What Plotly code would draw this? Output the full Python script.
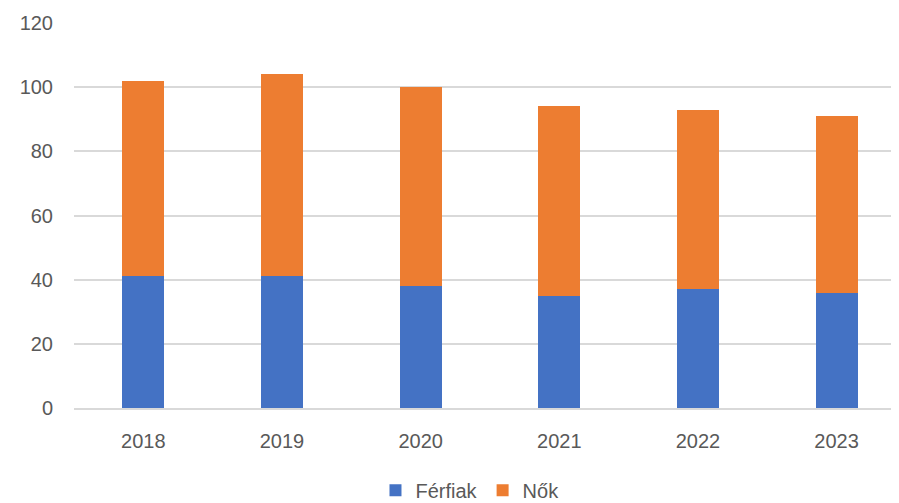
import plotly.graph_objects as go

years = ["2018", "2019", "2020", "2021", "2022", "2023"]
ferfiak = [41, 41, 38, 35, 37, 36]
nok = [61, 63, 62, 59, 56, 55]
y_ticks = [0, 20, 40, 60, 80, 100, 120]

fig = go.Figure()
fig.add_trace(go.Bar(x=years, y=ferfiak, name="Férfiak", marker_color="#4472C4",
                     marker_line_width=0))
fig.add_trace(go.Bar(x=years, y=nok, name="Nők", marker_color="#ED7D31",
                     marker_line_width=0))

font = dict(family="Liberation Sans, Arial, sans-serif", size=20, color="#595959")

# page body has an 8px margin, so the figure is sized/offset to compensate
fig.update_layout(
    barmode="stack",
    bargap=0.697,
    width=891, height=495,
    margin=dict(l=66, r=0, t=15, b=95, autoexpand=False),
    paper_bgcolor="white", plot_bgcolor="white",
    font=font,
    showlegend=True,
    legend=dict(orientation="h", xref="container", yref="container",
                x=0.5185, y=0.026, xanchor="center", yanchor="middle",
                font=font, itemwidth=30, traceorder="normal"),
    xaxis=dict(type="category", range=[-0.5, 5.45], showgrid=False,
               showline=True, linecolor="#D9D9D9", linewidth=1.5,
               ticks="", ticklabelstandoff=14, tickfont=font),
    yaxis=dict(range=[0, 120], tickvals=y_ticks, showgrid=True,
               gridcolor="#D9D9D9", gridwidth=1.5, zeroline=False,
               showline=False, ticks="", ticklabelstandoff=20, tickfont=font),
)

fig.write_html("out.html")
